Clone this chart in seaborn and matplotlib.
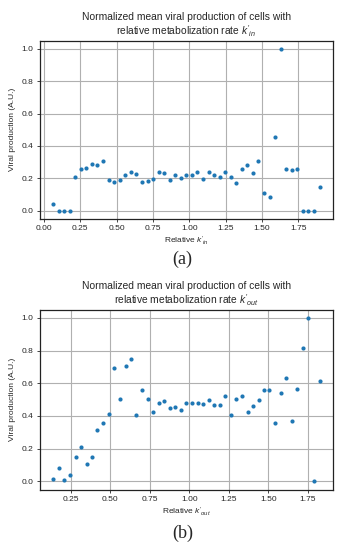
import matplotlib
matplotlib.use("Agg")
import matplotlib.pyplot as plt
import seaborn as sns
import pandas as pd

sns.set_theme(style="ticks")
plt.rcParams['font.family'] = ['Liberation Sans', 'DejaVu Sans']
plt.rcParams['mathtext.fontset'] = 'custom'
plt.rcParams['mathtext.it'] = 'Liberation Sans:italic'
plt.rcParams['mathtext.rm'] = 'Liberation Sans'

# panel (a): relative k'_in
k_in = [0.062, 0.101, 0.140, 0.179, 0.216, 0.252, 0.291, 0.330, 0.367, 0.406,
        0.445, 0.482, 0.521, 0.560, 0.596, 0.635, 0.674, 0.713, 0.750, 0.789,
        0.828, 0.865, 0.904, 0.943, 0.979, 1.018, 1.057, 1.094, 1.133, 1.172,
        1.209, 1.248, 1.287, 1.323, 1.362, 1.401, 1.438, 1.477, 1.514, 1.553,
        1.592, 1.631, 1.667, 1.706, 1.745, 1.784, 1.821, 1.860, 1.899]
prod_in = [0.039, 0.0, 0.0, 0.0, 0.210, 0.255, 0.267, 0.290, 0.280, 0.306,
           0.192, 0.180, 0.192, 0.218, 0.239, 0.229, 0.176, 0.186, 0.196, 0.239,
           0.233, 0.192, 0.224, 0.200, 0.218, 0.224, 0.239, 0.196, 0.239, 0.218,
           0.210, 0.239, 0.210, 0.171, 0.255, 0.284, 0.235, 0.306, 0.112, 0.088,
           0.453, 1.0, 0.259, 0.251, 0.255, 0.0, 0.0, 0.0, 0.145]

# panel (b): relative k'_out
k_out = [0.139, 0.176, 0.210, 0.246, 0.282, 0.315, 0.351, 0.387, 0.420, 0.456,
         0.492, 0.525, 0.561, 0.597, 0.630, 0.666, 0.702, 0.737, 0.771, 0.807,
         0.842, 0.876, 0.912, 0.947, 0.981, 1.017, 1.053, 1.086, 1.122, 1.158,
         1.191, 1.227, 1.263, 1.296, 1.332, 1.368, 1.401, 1.437, 1.473, 1.506,
         1.542, 1.578, 1.611, 1.647, 1.683, 1.716, 1.752, 1.788, 1.824]
prod_out = [0.016, 0.084, 0.010, 0.041, 0.151, 0.208, 0.108, 0.147, 0.312, 0.357,
            0.414, 0.692, 0.502, 0.708, 0.749, 0.408, 0.559, 0.506, 0.424, 0.480,
            0.490, 0.449, 0.457, 0.437, 0.476, 0.476, 0.478, 0.471, 0.496, 0.467,
            0.465, 0.522, 0.408, 0.504, 0.520, 0.427, 0.459, 0.500, 0.557, 0.561,
            0.357, 0.539, 0.631, 0.367, 0.565, 0.814, 1.0, 0.0, 0.616]

y_ticks = [0.0, 0.2, 0.4, 0.6, 0.8, 1.0]

panels = [
    (k_in, prod_in, "in", [0.112, 0.602, 0.829, 0.324], "(a)", 0.512),
    (k_out, prod_out, "out", [0.112, 0.110, 0.829, 0.327], "(b)", 0.014),
]

fig = plt.figure(figsize=(3.54, 5.5), dpi=100)

for xs, ys, sub, rect, tag, tag_y in panels:
    ax = fig.add_axes(rect)
    df = pd.DataFrame({"k": xs, "v": ys})
    sns.scatterplot(data=df, x="k", y="v", ax=ax, s=9, linewidth=0,
                    color="#1f77b4", zorder=3)
    ax.set_yticks(y_ticks)
    ax.xaxis.set_major_formatter(matplotlib.ticker.FormatStrFormatter("%.2f"))
    ax.grid(True, color="#b0b0b0", linewidth=0.8)
    for sp in ax.spines.values():
        sp.set_color("#222222")
        sp.set_linewidth(0.9)
    ax.tick_params(labelsize=6, length=2.5, width=0.6, pad=2)
    ax.set_title("Normalized mean viral production of cells with\n"
                 "relative metabolization rate $k'_{%s}$" % sub,
                 fontsize=7.4, pad=4, linespacing=1.15)
    ax.set_xlabel("Relative $k'_{%s}$" % sub, fontsize=6, labelpad=2)
    ax.set_ylabel("Viral production (A.U.)", fontsize=6, labelpad=4)
    fig.text(0.515, tag_y, tag, ha="center", va="bottom", fontsize=13,
             family="Liberation Serif")

fig.savefig("out.png", dpi=100)
